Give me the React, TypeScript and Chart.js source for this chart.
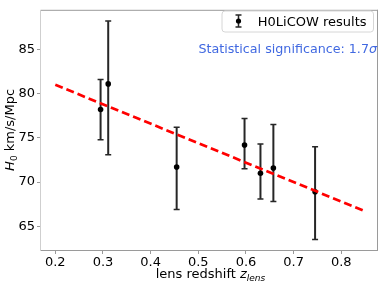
import React, { useEffect, useRef } from "react";
import { Chart, registerables } from "chart.js";

Chart.register(...registerables);

// ---- data ----
const redshift = [0.295, 0.311, 0.4546, 0.597, 0.6304, 0.6575, 0.745];
const h0 = [78.2, 81.1, 71.7, 74.2, 71.0, 71.6, 68.9];
const errUp = [3.4, 7.1, 4.5, 3.0, 3.3, 4.9, 5.1];
const errDown = [3.4, 8.0, 4.8, 2.7, 2.9, 3.8, 5.4];
const fitZ = [0.2, 0.85];
const fitH0 = [81.0, 66.7];
const xTicks = [0.2, 0.3, 0.4, 0.5, 0.6, 0.7, 0.8];
const yTicks = [65, 70, 75, 80, 85];
const legendLabel = "H0LiCOW results";
const significanceText = "Statistical significance: 1.7";
const significanceSymbol = "σ";

const FONT = '"DejaVu Sans", sans-serif';

type Part = { text: string; font: string; dy?: number };

function drawParts(ctx: CanvasRenderingContext2D, parts: Part[], x: number, y: number, align: "left" | "center" | "right") {
  let total = 0;
  for (const p of parts) {
    ctx.font = p.font;
    total += ctx.measureText(p.text).width;
  }
  let cx = align === "left" ? x : align === "center" ? x - total / 2 : x - total;
  ctx.textAlign = "left";
  ctx.textBaseline = "alphabetic";
  for (const p of parts) {
    ctx.font = p.font;
    ctx.fillText(p.text, cx, y + (p.dy || 0));
    cx += ctx.measureText(p.text).width;
  }
}

const errorBarPlugin = {
  id: "errorBars",
  beforeDatasetsDraw(chart: any) {
    const ctx = chart.ctx;
    const xs = chart.scales.x;
    const ys = chart.scales.y;
    ctx.save();
    ctx.strokeStyle = "#262626";
    for (let i = 0; i < redshift.length; i++) {
      const px = xs.getPixelForValue(redshift[i]);
      const top = ys.getPixelForValue(h0[i] + errUp[i]);
      const bot = ys.getPixelForValue(h0[i] - errDown[i]);
      ctx.lineWidth = 2;
      ctx.beginPath();
      ctx.moveTo(px, top);
      ctx.lineTo(px, bot);
      ctx.stroke();
      ctx.lineWidth = 1.5;
      ctx.beginPath();
      ctx.moveTo(px - 3, top);
      ctx.lineTo(px + 3, top);
      ctx.moveTo(px - 3, bot);
      ctx.lineTo(px + 3, bot);
      ctx.stroke();
    }
    ctx.restore();
  },
};

const decorPlugin = {
  id: "decor",
  afterDraw(chart: any) {
    const ctx: CanvasRenderingContext2D = chart.ctx;
    const a = chart.chartArea;
    ctx.save();
    // spines
    ctx.lineWidth = 1;
    ctx.strokeStyle = "#9a9a9a";
    ctx.beginPath();
    ctx.moveTo(a.left, a.top + 0.5);
    ctx.lineTo(a.right, a.top + 0.5);
    ctx.moveTo(a.right - 0.5, a.top);
    ctx.lineTo(a.right - 0.5, a.bottom);
    ctx.moveTo(a.left, a.bottom + 0.5);
    ctx.lineTo(a.right, a.bottom + 0.5);
    ctx.stroke();
    ctx.strokeStyle = "#cfcfcf";
    ctx.beginPath();
    ctx.moveTo(a.left - 0.5, a.top);
    ctx.lineTo(a.left - 0.5, a.bottom + 1);
    ctx.stroke();

    // legend box
    const bx = 222, by = 11, bw = 151.5, bh = 21, r = 3;
    ctx.beginPath();
    ctx.moveTo(bx + r, by);
    ctx.lineTo(bx + bw - r, by);
    ctx.arcTo(bx + bw, by, bx + bw, by + r, r);
    ctx.lineTo(bx + bw, by + bh - r);
    ctx.arcTo(bx + bw, by + bh, bx + bw - r, by + bh, r);
    ctx.lineTo(bx + r, by + bh);
    ctx.arcTo(bx, by + bh, bx, by + bh - r, r);
    ctx.lineTo(bx, by + r);
    ctx.arcTo(bx, by, bx + r, by, r);
    ctx.closePath();
    ctx.fillStyle = "rgba(255,255,255,0.85)";
    ctx.fill();
    ctx.strokeStyle = "#d6d6d6";
    ctx.lineWidth = 1;
    ctx.stroke();

    // legend icon
    const ix = 238.5, iy = 21;
    ctx.strokeStyle = "#262626";
    ctx.lineWidth = 1.5;
    ctx.beginPath();
    ctx.moveTo(ix, iy - 6);
    ctx.lineTo(ix, iy + 6);
    ctx.moveTo(ix - 3, iy - 6);
    ctx.lineTo(ix + 3, iy - 6);
    ctx.moveTo(ix - 3, iy + 6);
    ctx.lineTo(ix + 3, iy + 6);
    ctx.stroke();
    ctx.fillStyle = "#000";
    ctx.beginPath();
    ctx.arc(ix, iy, 2.6, 0, Math.PI * 2);
    ctx.fill();

    ctx.fillStyle = "#000";
    drawParts(ctx, [{ text: legendLabel, font: `13px ${FONT}` }], 366.5, 26, "right");

    // significance annotation
    ctx.fillStyle = "#4169e1";
    drawParts(
      ctx,
      [
        { text: significanceText, font: `12.7px ${FONT}` },
        { text: significanceSymbol, font: `italic 12.7px ${FONT}` },
      ],
      377,
      53,
      "right"
    );

    // axis titles
    ctx.fillStyle = "#000";
    drawParts(
      ctx,
      [
        { text: "lens redshift ", font: `13px ${FONT}` },
        { text: "z", font: `italic 13px ${FONT}` },
        { text: "lens", font: `italic 9px ${FONT}`, dy: 2.5 },
      ],
      (a.left + a.right) / 2 + 1,
      278,
      "center"
    );

    ctx.save();
    ctx.translate(14, (a.top + a.bottom) / 2);
    ctx.rotate(-Math.PI / 2);
    drawParts(
      ctx,
      [
        { text: "H", font: `italic 13px ${FONT}` },
        { text: "0", font: `9px ${FONT}`, dy: 2.5 },
        { text: " km/s/Mpc", font: `13px ${FONT}` },
      ],
      0,
      0,
      "center"
    );
    ctx.restore();

    ctx.restore();
  },
};

export default function App() {
  const ref = useRef<HTMLCanvasElement | null>(null);

  useEffect(() => {
    document.body.style.margin = "0";
    const canvas = ref.current;
    if (!canvas) return;
    const chart = new Chart(canvas, {
      type: "scatter",
      data: {
        datasets: [
          {
            type: "line",
            label: "fit",
            data: fitZ.map((z, i) => ({ x: z, y: fitH0[i] })),
            borderColor: "#ff0000",
            borderWidth: 2.7,
            borderDash: [8, 4],
            pointRadius: 0,
            fill: false,
            order: 0,
          } as any,
          {
            type: "scatter",
            label: legendLabel,
            data: redshift.map((z, i) => ({ x: z, y: h0[i] })),
            backgroundColor: "#000",
            borderWidth: 0,
            pointRadius: 2.8,
            order: 1,
          },
        ],
      },
      options: {
        animation: false,
        responsive: false,
        devicePixelRatio: 1,
        layout: { padding: { top: 3, right: 4, left: 0, bottom: 0 } },
        plugins: { legend: { display: false }, tooltip: { enabled: false } },
        scales: {
          x: {
            type: "linear",
            min: 0.17,
            max: 0.877,
            border: { display: false },
            grid: { drawOnChartArea: false, drawTicks: true, tickLength: 4, color: "#9a9a9a" },
            ticks: {
              autoSkip: false,
              maxRotation: 0,
              padding: 1,
              color: "#000",
              font: { family: FONT, size: 13 },
              callback: (v: any) => Number(v).toFixed(1),
            },
            afterBuildTicks: (s: any) => {
              s.ticks = xTicks.map((v) => ({ value: v }));
            },
            afterFit: (s: any) => {
              s.height = 36;
            },
          },
          y: {
            type: "linear",
            min: 62.32,
            max: 89.48,
            border: { display: false },
            grid: { drawOnChartArea: false, drawTicks: true, tickLength: 4, color: "#9a9a9a" },
            ticks: {
              autoSkip: false,
              padding: 2,
              color: "#000",
              font: { family: FONT, size: 13 },
              callback: (v: any) => String(v),
            },
            afterBuildTicks: (s: any) => {
              s.ticks = yTicks.map((v) => ({ value: v }));
            },
            afterFit: (s: any) => {
              s.width = 41;
            },
          },
        },
      },
      plugins: [errorBarPlugin, decorPlugin],
    });
    return () => chart.destroy();
  }, []);

  return (
    <canvas
      ref={ref}
      width={382}
      height={286}
      style={{ position: "fixed", left: 0, top: 0, width: 382, height: 286, display: "block" }}
    />
  );
}
